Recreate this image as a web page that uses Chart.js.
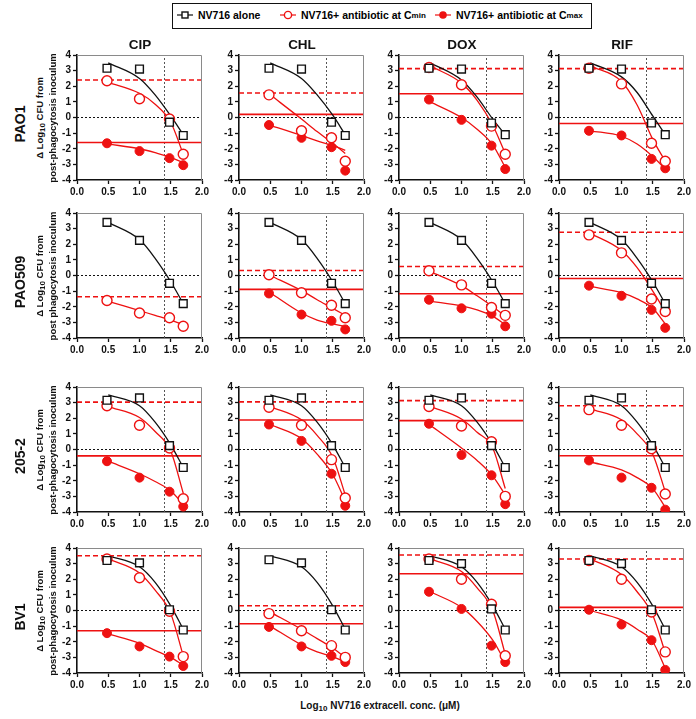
<!DOCTYPE html>
<html>
<head>
<meta charset="utf-8">
<script src="https://cdn.jsdelivr.net/npm/chart.js@4"></script>
<style>
  body { margin: 0; background: #fff; font-family: "Liberation Sans", Arial, sans-serif; }
  #wrap { position: relative; width: 696px; height: 719px; overflow: hidden; }
  .panel { position: absolute; }
  .txt { position: absolute; font-weight: bold; color: #111; white-space: nowrap; z-index: 2; }
  .rot { transform: translate(-50%, -50%) rotate(-90deg); }
  .ctr { transform: translate(-50%, -50%); }
  #legend { position: absolute; left: 172px; top: 3px; width: 418px; height: 24px; border: 1.5px solid #111; }
  .leg { position: absolute; top: 5px; font-size: 10.5px; font-weight: bold; display: flex; align-items: center; }
  .leg svg { margin-right: 5px; }
  sub { font-size: 8px; vertical-align: -2px; }
</style>
</head>
<body>
<div id="wrap">
  <div id="legend">
    <div class="leg" style="left:4px">
      <svg width="16" height="12"><line x1="0" y1="6" x2="16" y2="6" stroke="#111" stroke-width="1.2"/><rect x="5" y="3" width="6" height="6" fill="#fff" stroke="#111" stroke-width="1.4"/></svg>NV716 alone
    </div>
    <div class="leg" style="left:107px">
      <svg width="16" height="12"><line x1="0" y1="6" x2="16" y2="6" stroke="#ee1111" stroke-width="1.2"/><circle cx="8" cy="6" r="3.6" fill="#fff" stroke="#ee1111" stroke-width="1.4"/></svg>NV716+ antibiotic at C<sub>min</sub>
    </div>
    <div class="leg" style="left:262px">
      <svg width="16" height="12"><line x1="0" y1="6" x2="16" y2="6" stroke="#ee1111" stroke-width="1.2"/><circle cx="8" cy="6" r="3.8" fill="#ee1111"/></svg>NV716+ antibiotic at C<sub>max</sub>
    </div>
  </div>
</div>
<script>
// x positions (log10 µM) of the measured points and of the read-off fitted curves
const concX = [0.48, 1.0, 1.48, 1.7];
const curveX = [0.5, 1.0, 1.25, 1.5, 1.7];
const micX = 1.4;

const strainNames = ['PAO1', 'PAO509', '205-2', 'BV1'];
const drugNames = ['CIP', 'CHL', 'DOX', 'RIF'];

// ---- PAO1 (CIP, CHL, DOX, RIF) ----
const pao1Alone = [[3.15, 3.1, -0.3, -1.15], [3.15, 3.1, -0.3, -1.15], [3.15, 3.1, -0.35, -1.1], [3.15, 3.1, -0.35, -1.1]];
const pao1Min = [[2.35, 1.2, -0.1, -2.35], [1.45, -0.85, -1.3, -2.8], [3.2, 2.1, -0.55, -2.35], [3.15, 2.15, -1.65, -2.8]];
const pao1Max = [[-1.65, -2.15, -2.6, -3.05], [-0.48, -1.3, -1.9, -3.4], [1.15, -0.15, -1.8, -3.3], [-0.85, -1.15, -2.65, -3.25]];
const pao1AloneFit = [[3.5, 2.5, 1.45, 0.1, -1.1], [3.5, 2.5, 1.45, 0.15, -1.1], [3.5, 2.4, 1.3, -0.1, -1.1], [3.5, 2.6, 1.6, 0.1, -1.1]];
const pao1MinFit = [[2.25, 1.55, 0.85, -0.3, -2.35], [1.45, -0.1, -0.9, -1.65, -2.3], [3.3, 2.2, 1.1, -0.5, -2.3], [3.3, 2.3, 0.8, -1.4, -2.8]];
const pao1MaxFit = [[-1.7, -2.0, -2.25, -2.55, -2.9], [-0.5, -1.15, -1.5, -1.8, -2.1], [1.0, 0.0, -0.75, -1.75, -3.2], [-0.85, -1.2, -1.7, -2.5, -3.3]];
const pao1Cmin = [2.4, 1.57, 3.13, 3.13];
const pao1Cmax = [-1.6, 0.2, 1.52, -0.38];

// ---- PAO509 ----
const pao509Alone = [[3.4, 2.25, -0.5, -1.8], [3.4, 2.25, -0.5, -1.8], [3.4, 2.25, -0.5, -1.8], [3.4, 2.25, -0.5, -1.8]];
const pao509Min = [[-1.6, -2.4, -2.7, -3.25], [0.05, -1.1, -1.9, -2.7], [0.3, -0.6, -2.05, -2.55], [2.6, 1.45, -1.5, -2.3]];
const pao509Max = [null, [-1.15, -2.5, -2.9, -3.45], [-1.55, -2.1, -2.45, -3.25], [-0.65, -1.3, -2.2, -3.35]];
const pao509AloneFit = [[3.4, 2.3, 1.1, -0.4, -1.8], [3.4, 2.3, 1.1, -0.4, -1.8], [3.4, 2.3, 1.1, -0.4, -1.8], [3.4, 2.3, 1.1, -0.4, -1.8]];
const pao509MinFit = [[-1.65, -2.25, -2.55, -2.85, -3.15], [0.0, -0.97, -1.55, -2.1, -2.55], [0.25, -0.65, -1.3, -2.0, -2.6], [2.7, 1.6, 0.5, -1.0, -2.3]];
const pao509MaxFit = [null, [-1.1, -2.4, -2.85, -3.1, -3.25], [-1.65, -1.95, -2.2, -2.6, -3.15], [-0.7, -1.1, -1.5, -2.1, -3.1]];
const pao509Cmin = [-1.36, 0.32, 0.58, 2.77];
const pao509Cmax = [null, -0.89, -1.17, -0.19];

// ---- 205-2 ----
const s2052Alone = [[3.15, 3.3, 0.25, -1.15], [3.15, 3.3, 0.25, -1.15], [3.15, 3.3, 0.25, -1.15], [3.15, 3.3, 0.25, -1.15]];
const s2052Min = [[2.8, 1.55, 0.1, -3.15], [2.7, 1.55, -0.65, -3.1], [2.75, 1.5, 0.5, -3.0], [2.55, 1.55, 0.05, -2.85]];
const s2052Max = [[-0.75, -1.8, -2.7, -3.65], [1.6, 0.55, -1.55, -3.6], [1.65, -0.35, -1.65, -3.5], [-0.7, -1.8, -2.45, -3.85]];
const s2052AloneFit = [[3.5, 2.8, 1.75, 0.3, -1.15], [3.5, 2.8, 1.75, 0.3, -1.15], [3.5, 2.8, 1.75, 0.3, -1.15], [3.5, 2.8, 1.75, 0.3, -1.15]];
const s2052MinFit = [[2.75, 2.05, 1.15, -0.1, -2.8], [2.75, 1.9, 0.9, -0.5, -2.9], [2.75, 1.95, 1.1, 0.1, -2.5], [2.6, 1.9, 1.0, -0.3, -2.7]];
const s2052MaxFit = [[-0.75, -1.55, -2.05, -2.65, -3.5], [1.6, 0.7, -0.3, -1.6, -3.3], [1.55, 0.1, -0.7, -1.7, -2.9], [-0.8, -1.3, -1.8, -2.5, -3.7]];
const s2052Cmin = [3.03, 3.05, 3.13, 2.8];
const s2052Cmax = [-0.41, 1.89, 1.85, -0.4];

// ---- BV1 ----
const bv1Alone = [[3.2, 3.05, 0.05, -1.25], [3.25, 3.05, 0.05, -1.25], [3.2, 3.0, 0.1, -1.25], [3.2, 3.0, 0.05, -1.25]];
const bv1Min = [[3.3, 2.1, -0.05, -2.95], [-0.2, -1.3, -2.25, -3.0], [3.3, 2.0, 0.4, -2.9], [3.2, 2.0, -0.1, -2.65]];
const bv1Max = [[-1.45, -2.3, -2.95, -3.55], [-1.05, -2.3, -2.9, -3.3], [1.2, 0.1, -2.25, -3.3], [0.05, -0.9, -1.9, -3.8]];
const bv1AloneFit = [[3.5, 2.8, 1.8, 0.3, -1.2], [3.5, 2.8, 1.8, 0.3, -1.2], [3.5, 2.8, 1.8, 0.3, -1.2], [3.5, 2.8, 1.8, 0.3, -1.2]];
const bv1MinFit = [[3.3, 2.4, 1.3, -0.2, -2.9], [-0.1, -1.2, -1.8, -2.4, -3.0], [3.3, 2.5, 1.45, 0.0, -2.8], [3.3, 2.3, 1.2, -0.3, -2.7]];
const bv1MaxFit = [[-1.5, -2.1, -2.55, -3.0, -3.5], [-1.0, -2.2, -2.65, -2.95, -3.3], [1.2, 0.2, -0.7, -1.9, -3.3], [0.0, -0.6, -1.2, -2.0, -3.7]];
const bv1Cmin = [3.5, 0.3, 3.55, 3.3];
const bv1Cmax = [-1.3, -0.85, 2.35, 0.2];

const rows = [
  { alone: pao1Alone, min: pao1Min, max: pao1Max, aloneFit: pao1AloneFit, minFit: pao1MinFit, maxFit: pao1MaxFit, cmin: pao1Cmin, cmax: pao1Cmax, yTitle: 'post-phagocytosis inoculum' },
  { alone: pao509Alone, min: pao509Min, max: pao509Max, aloneFit: pao509AloneFit, minFit: pao509MinFit, maxFit: pao509MaxFit, cmin: pao509Cmin, cmax: pao509Cmax, yTitle: 'post phagocytosis inoculum' },
  { alone: s2052Alone, min: s2052Min, max: s2052Max, aloneFit: s2052AloneFit, minFit: s2052MinFit, maxFit: s2052MaxFit, cmin: s2052Cmin, cmax: s2052Cmax, yTitle: 'post-phagocytosis inoculum' },
  { alone: bv1Alone, min: bv1Min, max: bv1Max, aloneFit: bv1AloneFit, minFit: bv1MinFit, maxFit: bv1MaxFit, cmin: bv1Cmin, cmax: bv1Cmax, yTitle: 'post-phagocytosis inoculum' }
];

// layout of the plot areas
const colLeft = [77, 239, 399, 559];
const rowTop = [55, 213, 387, 548];
const plotW = 125, plotH = 125;
const padL = 28, padT = 8, padR = 10, padB = 22;

const RED = '#ee1111';
const INK = '#111';
Chart.defaults.font.family = '"Liberation Sans", Arial, sans-serif';
Chart.defaults.font.weight = 'bold';

const wrap = document.getElementById('wrap');

function addText(html, x, y, size, cls) {
  const d = document.createElement('div');
  d.className = 'txt ' + cls;
  d.style.left = Math.round(x) + 'px';
  d.style.top = Math.round(y) + 'px';
  d.style.fontSize = size + 'px';
  d.innerHTML = html;
  wrap.appendChild(d);
}

// grey top/right edges of each plot box
const frame = {
  id: 'frame',
  afterDraw(chart) {
    const a = chart.chartArea, ctx = chart.ctx;
    ctx.save();
    ctx.strokeStyle = '#8a8a8a';
    ctx.lineWidth = 1;
    ctx.beginPath();
    ctx.moveTo(a.left, a.top + 0.5);
    ctx.lineTo(a.right - 0.5, a.top + 0.5);
    ctx.lineTo(a.right - 0.5, a.bottom);
    ctx.stroke();
    ctx.restore();
  }
};

function pts(xs, ys) {
  return xs.map((x, i) => ({ x: x, y: ys[i] }));
}

function makePanel(r, c) {
  const row = rows[r];
  const cv = document.createElement('canvas');
  cv.className = 'panel';
  cv.width = padL + plotW + padR;
  cv.height = padT + plotH + padB;
  cv.style.left = (colLeft[c] - padL) + 'px';
  cv.style.top = (rowTop[r] - padT) + 'px';
  wrap.appendChild(cv);

  const ds = [];
  ds.push({ data: pts(concX, row.alone[c]), pointStyle: 'rect', pointRadius: 5.5, borderColor: INK, backgroundColor: '#fff', borderWidth: 1.4, showLine: false, order: 1 });
  ds.push({ data: pts(concX, row.min[c]), pointStyle: 'circle', pointRadius: 5, borderColor: RED, backgroundColor: '#fff', borderWidth: 1.4, showLine: false, order: 2 });
  if (row.max[c]) {
    ds.push({ data: pts(concX, row.max[c]), pointStyle: 'circle', pointRadius: 4.5, borderColor: RED, backgroundColor: RED, borderWidth: 1, showLine: false, order: 3 });
  }
  const fitStyle = { showLine: true, pointRadius: 0, borderWidth: 1.3, cubicInterpolationMode: 'monotone', order: 5 };
  ds.push(Object.assign({ data: pts(curveX, row.aloneFit[c]), borderColor: INK }, fitStyle));
  ds.push(Object.assign({ data: pts(curveX, row.minFit[c]), borderColor: RED }, fitStyle));
  if (row.maxFit[c]) ds.push(Object.assign({ data: pts(curveX, row.maxFit[c]), borderColor: RED }, fitStyle));

  ds.push({ data: [{ x: 0, y: row.cmin[c] }, { x: 2, y: row.cmin[c] }], showLine: true, pointRadius: 0, borderColor: RED, borderWidth: 1.6, borderDash: [5, 3], order: 6 });
  if (row.cmax[c] !== null) {
    ds.push({ data: [{ x: 0, y: row.cmax[c] }, { x: 2, y: row.cmax[c] }], showLine: true, pointRadius: 0, borderColor: RED, borderWidth: 1.6, order: 6 });
  }
  ds.push({ data: [{ x: 0, y: 0 }, { x: 2, y: 0 }], showLine: true, pointRadius: 0, borderColor: INK, borderWidth: 1, borderDash: [2, 2], order: 7 });
  ds.push({ data: [{ x: micX, y: -4 }, { x: micX, y: 4 }], showLine: true, pointRadius: 0, borderColor: '#555', borderWidth: 1, borderDash: [2, 2], order: 7 });

  const tickFont = { size: 10, weight: 'bold' };
  new Chart(cv, {
    type: 'scatter',
    data: { datasets: ds },
    options: {
      responsive: false,
      animation: false,
      events: [],
      layout: { padding: { top: padT, right: padR, left: 0, bottom: 0 } },
      plugins: { legend: { display: false }, tooltip: { enabled: false } },
      scales: {
        x: {
          type: 'linear', min: 0, max: 2,
          ticks: { stepSize: 0.5, color: INK, font: tickFont, padding: 2, maxRotation: 0, callback: v => v.toFixed(1) },
          grid: { drawOnChartArea: false, drawTicks: true, tickLength: 4, tickColor: INK, tickWidth: 1.3 },
          border: { color: INK, width: 1.6 },
          afterFit: s => { s.height = padB; }
        },
        y: {
          type: 'linear', min: -4, max: 4,
          ticks: { stepSize: 1, color: INK, font: tickFont, padding: 2 },
          grid: { drawOnChartArea: false, drawTicks: true, tickLength: 4, tickColor: INK, tickWidth: 1.3 },
          border: { color: INK, width: 1.6 },
          afterFit: s => { s.width = padL; }
        }
      }
    },
    plugins: [frame]
  });
}

for (let r = 0; r < 4; r++) {
  for (let c = 0; c < 4; c++) makePanel(r, c);
  const mid = rowTop[r] + plotH / 2;
  addText(strainNames[r], 20, mid + 6, 14, 'rot');
  addText('&Delta; Log<sub>10</sub> CFU from', 40, mid, 9.5, 'rot');
  addText(rows[r].yTitle, 52, mid, 9.5, 'rot');
}
for (let c = 0; c < 4; c++) {
  addText(drugNames[c], colLeft[c] + plotW / 2, 44, 13.5, 'ctr');
}
addText('Log<sub>10</sub> NV716 extracell. conc. (&mu;M)', 380, 706, 10, 'ctr');
</script>
</body>
</html>
